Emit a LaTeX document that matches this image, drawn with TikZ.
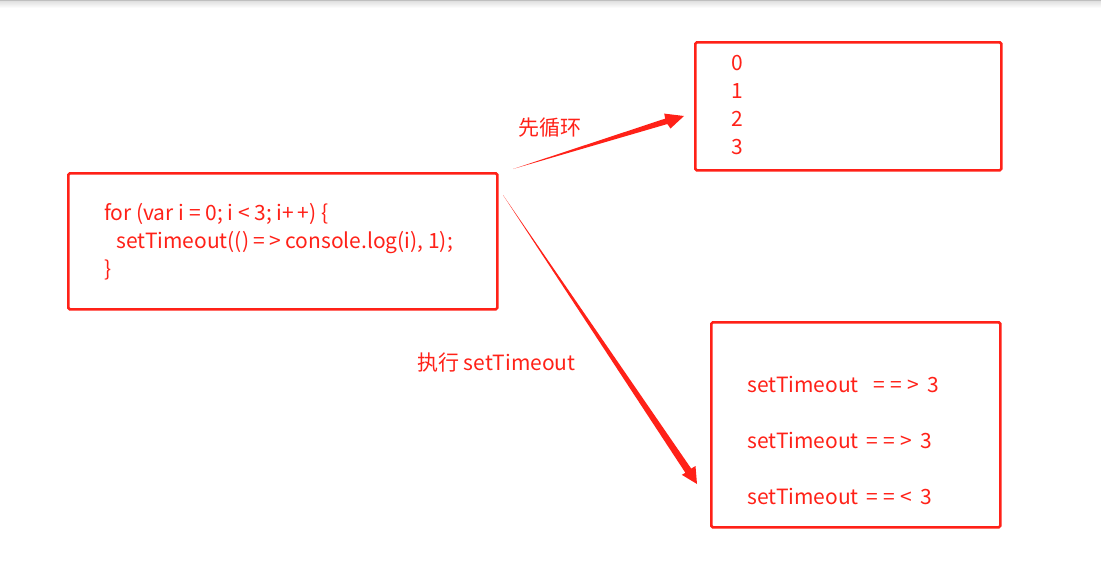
\documentclass[tikz,border=0pt]{standalone}
\usepackage{fontspec}
\setmainfont{Noto Sans CJK SC}
\newcommand{\spread}[2]{\makebox[#1][s]{#2}}
\begin{document}
\begin{tikzpicture}[x=1pt,y=-1pt,
  box/.style={draw=rd,line width=2.6pt,rounded corners=1.5pt,minimum width=#1,anchor=north west,inner sep=0pt},
  txt/.style={text=rd,anchor=west,inner sep=0pt,font=\fontsize{21}{24}\selectfont},
  arr/.style={fill=rd}]
\definecolor{rd}{RGB}{255,33,24}
\useasboundingbox[fill=white] (0,0) rectangle (1101,579);
\shade[top color=black!12,bottom color=white] (0,1) rectangle (1101,8);
\draw[black!25,line width=1pt] (0,0.5) -- (1101,0.5);
% boxes
\node[box=429pt,minimum height=136pt] (b1) at (67,172) {};
\node[box=306pt,minimum height=128pt] (b2) at (694,41) {};
\node[box=289pt,minimum height=205pt] (b3) at (710,321) {};
% box 1 text
\node[txt] (c1) at (104,214) {for (var i = 0; i < 3; i\spread{27pt}{+\hfill+}) \{};
\node[txt] (c2) at (116,243) {setTimeout(() \spread{27pt}{=\hfill>} console.log(i), 1);};
\node[txt] (c3) at (104,270) {\}};
% box 2 text
\node[txt] (n0) at (731,63) {0};
\node[txt] (n1) at (731,91) {1};
\node[txt] (n2) at (731,119) {2};
\node[txt] (n3) at (731,147) {3};
% box 3 text
\node[txt] (s1) at (747,384) {setTimeout\hspace{15pt}\spread{45pt}{=\hfill=\hfill>}\hspace{9pt}3};
\node[txt] (s2) at (747,440) {setTimeout\hspace{8pt}\spread{45pt}{=\hfill=\hfill>}\hspace{9pt}3};
\node[txt] (s3) at (747,496) {setTimeout\hspace{8pt}\spread{45pt}{=\hfill=\hfill<}\hspace{9pt}3};
% labels
\node[txt] (l1) at (518,128) {先循环};
\node[txt] (l2) at (417,363) {执行 setTimeout};
% arrow 1
\coordinate (a1s) at (513,169);
\coordinate (a1t) at (684,116);
\fill[arr] (a1s) -- (665.2,118.6) -- (664.2,113.6) -- (a1t) -- (670.5,128.5) -- (667.4,124.0) -- cycle;
% arrow 2
\coordinate (a2s) at (503,195);
\coordinate (a2t) at (697,484);
\fill[arr] (a2s) -- (691.2,468.6) -- (695.5,466.0) -- (a2t) -- (681.8,474.8) -- (685.4,472.8) -- cycle;
\end{tikzpicture}
\end{document}
